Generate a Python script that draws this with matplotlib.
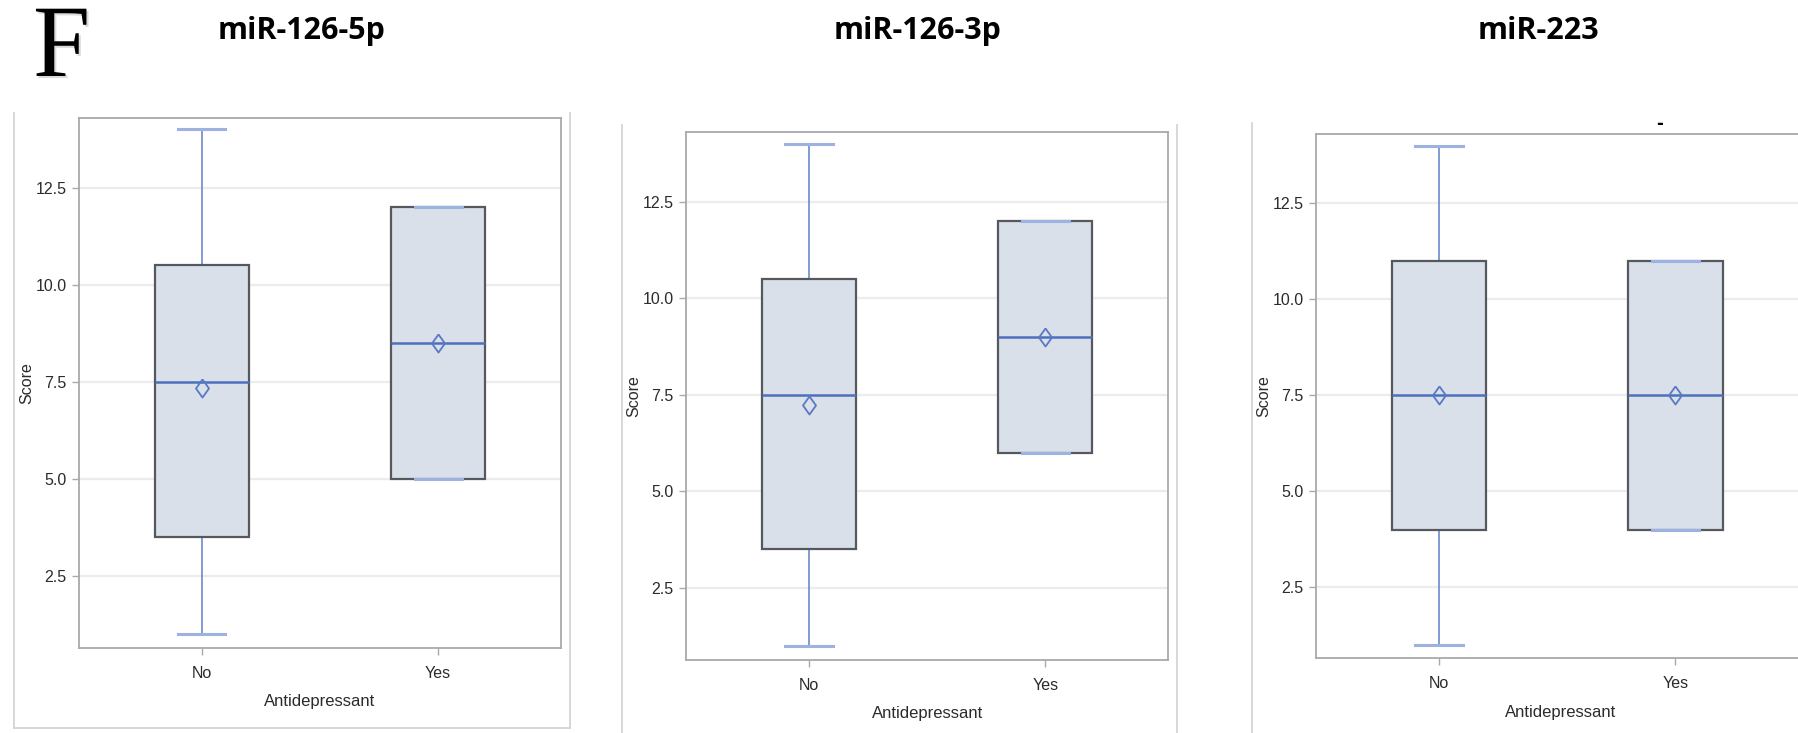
import matplotlib
matplotlib.use("Agg")
import matplotlib.pyplot as plt
from matplotlib.lines import Line2D
import matplotlib.patheffects as pe

# ---------------- data ----------------
groups = ["No", "Yes"]
titles = ["miR-126-5p", "miR-126-3p", "miR-223"]

# per panel, per group
mins    = [[1.0, 5.0],  [1.0, 6.0],  [1.0, 4.0]]
q1s     = [[3.5, 5.0],  [3.5, 6.0],  [4.0, 4.0]]
medians = [[7.5, 8.5],  [7.5, 9.0],  [7.5, 7.5]]
q3s     = [[10.5, 12.0], [10.5, 12.0], [11.0, 11.0]]
maxs    = [[14.0, 12.0], [14.0, 12.0], [14.0, 11.0]]
means   = [[7.33, 8.5], [7.25, 9.0], [7.5, 7.5]]

yticks = [2.5, 5.0, 7.5, 10.0, 12.5]
ytick_labels = ["2.5", "5.0", "7.5", "10.0", "12.5"]
xlabel = "Antidepressant"
ylabel = "Score"
panel_letter = "F"

# ---------------- style ----------------
W, H = 1798, 733
fig = plt.figure(figsize=(W / 100, H / 100), dpi=100)
fig.patch.set_facecolor("white")

NARROW = ["Liberation Sans Narrow", "Liberation Sans", "DejaVu Sans"]
SANS = ["Liberation Sans", "DejaVu Sans"]

FILL = "#d9e0ea"
EDGE = "#55585c"
MED = "#4d70bd"
WHISK = "#5f80c9"
CAP = "#9db2e0"
GRID = "#ececec"
FRAME = "#a9a9a9"
OUTER = "#d4d4d4"
TXT = "#2b2b2b"

DIAMOND = [(0, 1), (0.72, 0), (0, -1), (-0.72, 0), (0, 1)]

def px_rect(l, t, r, b):
    return [l / W, 1 - b / H, (r - l) / W, (b - t) / H]

axes_px = [(79, 117.8, 561, 647.5),
           (686.3, 132.3, 1168, 659.5),
           (1316.2, 134.3, 1805, 658.3)]
xlims = [(-0.52, 1.52), (-0.52, 1.52), (-0.52, 1.548)]

for i in range(3):
    ax = fig.add_axes(px_rect(*axes_px[i]))
    stats = []
    for g in range(2):
        stats.append(dict(med=medians[i][g], q1=q1s[i][g], q3=q3s[i][g],
                          whislo=mins[i][g], whishi=maxs[i][g],
                          mean=means[i][g], fliers=[], label=groups[g]))
    ax.bxp(stats, positions=[0, 1], widths=0.4, capwidths=0.2,
           patch_artist=True, showmeans=True, showfliers=False,
           boxprops=dict(facecolor=FILL, edgecolor=EDGE, linewidth=1.6, zorder=2),
           medianprops=dict(color=MED, linewidth=1.8, zorder=3),
           whiskerprops=dict(color=WHISK, linewidth=1.1, zorder=1),
           capprops=dict(color=CAP, linewidth=2.2, zorder=4),
           meanprops=dict(marker=DIAMOND, markersize=13, markerfacecolor="none",
                          markeredgecolor="#5a78c4", markeredgewidth=1.3, zorder=5))
    ax.set_xlim(*xlims[i])
    ax.set_ylim(0.65, 14.3)
    ax.set_yticks(yticks)
    ax.set_yticklabels(ytick_labels)
    ax.set_xticks([0, 1])
    ax.set_xticklabels(groups)
    ax.yaxis.grid(True, color=GRID, linewidth=1.6, zorder=0)
    ax.set_axisbelow(True)
    for s in ax.spines.values():
        s.set_color(FRAME)
        s.set_linewidth(1.3)
    ax.tick_params(axis="both", colors=FRAME, length=5, width=1.0,
                   labelcolor=TXT, labelsize=11.5)
    ax.tick_params(axis="x", pad=8)
    ax.tick_params(axis="y", pad=4)
    for lab in ax.get_xticklabels() + ax.get_yticklabels():
        lab.set_family(NARROW)
    ax.set_xlabel(xlabel, family=NARROW, fontsize=12, color=TXT, labelpad=10)
    ax.set_ylabel(ylabel, family=SANS, fontsize=11.5, color=TXT, labelpad=1)

# ---------------- outer panel frames ----------------
def vline(x, y0, y1):
    fig.add_artist(Line2D([x / W, x / W], [1 - y0 / H, 1 - y1 / H],
                          color=OUTER, linewidth=1.3, transform=fig.transFigure))

def hline(y, x0, x1):
    fig.add_artist(Line2D([x0 / W, x1 / W], [1 - y / H, 1 - y / H],
                          color=OUTER, linewidth=1.3, transform=fig.transFigure))

vline(14, 113, 728)
vline(570, 113, 728)
hline(728, 14, 570)
vline(622, 125, 733)
vline(1177, 125, 733)
vline(1252, 123, 733)

# ---------------- titles ----------------
title_x = [302, 918, 1538]
for t, x in zip(titles, title_x):
    fig.text(x / W, 1 - 39 / H, t, ha="center", va="baseline",
             family=["Open Sans", "DejaVu Sans"], fontweight="bold",
             fontsize=22, color="black")

fig.text(33 / W, 1 - 76 / H, panel_letter, ha="left", va="baseline",
         family=["Liberation Serif", "DejaVu Serif"], fontsize=74, color="black",
         path_effects=[pe.withSimplePatchShadow(offset=(1.5, -1.5),
                                                shadow_rgbFace="#999999", alpha=0.35)])

# stray dash mark present in the reference
fig.text(1660 / W, 1 - 124 / H, "-", ha="center", va="center",
         fontsize=12, fontweight="bold", color="black")

fig.savefig("out.png", dpi=100, facecolor="white")
